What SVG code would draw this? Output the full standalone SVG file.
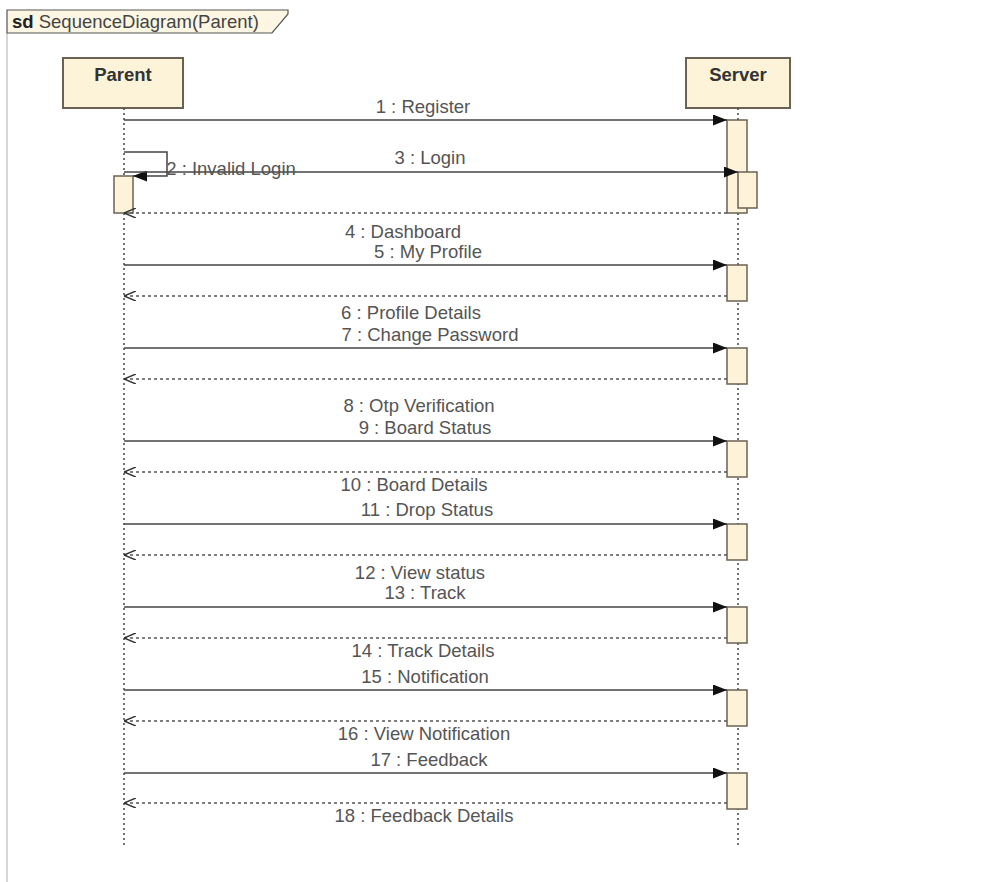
<svg xmlns="http://www.w3.org/2000/svg" width="988" height="882" viewBox="0 0 988 882">
  <defs>
    <marker id="filled" viewBox="0 0 14 11" refX="14" refY="5.5" markerWidth="14" markerHeight="11" markerUnits="userSpaceOnUse" orient="auto">
      <path d="M0,0 L14,5.5 L0,11 Z" fill="#111"/>
    </marker>
    <marker id="open" viewBox="0 0 12 10" refX="12" refY="5" markerWidth="12" markerHeight="10" markerUnits="userSpaceOnUse" orient="auto">
      <path d="M0,0 L12,5 L0,10" fill="none" stroke="#333" stroke-width="1.5"/>
    </marker>
    <style>
      .frame { fill: none; stroke: #c8c8c8; stroke-width: 1.5; }
      .tab { fill: #fdf6e3; stroke: #555; stroke-width: 1.2; }
      .head { fill: #fdf3d9; stroke: #6b6253; stroke-width: 2; }
      .act { fill: #fdf3d9; stroke: #6b6253; stroke-width: 1.5; }
      .life { stroke: #444; stroke-width: 1.5; stroke-dasharray: 2 3; fill: none; }
      .msg { stroke: #444; stroke-width: 1.5; fill: none; marker-end: url(#filled); }
      .ret { stroke: #555; stroke-width: 1.5; stroke-dasharray: 3 3; fill: none; marker-end: url(#open); }
      .lbl { font-family: "Liberation Sans", Arial, sans-serif; font-size: 18.5px; fill: #555; text-anchor: middle; }
      .name { font-family: "Liberation Sans", Arial, sans-serif; font-size: 18.5px; font-weight: bold; fill: #333; text-anchor: middle; }
      .title { font-family: "Liberation Sans", Arial, sans-serif; font-size: 18.5px; fill: #444; }
    </style>
  </defs>
  <rect width="988" height="882" fill="#fff"/>

  <!-- interaction frame and its name tab -->
  <g id="frame">
    <line class="frame" x1="7" y1="33" x2="7" y2="882"/>
    <path class="tab" d="M7,10 H288 V14 L272,33 H7 Z"/>
    <text class="title" x="12" y="28"><tspan font-weight="bold" fill="#222">sd</tspan> SequenceDiagram(Parent)</text>
  </g>

  <!-- lifelines -->
  <g id="parent">
    <rect class="head" x="63" y="58" width="120" height="50"/>
    <text class="name" x="123" y="81">Parent</text>
    <line class="life" x1="124" y1="108" x2="124" y2="845"/>
    <rect class="act" x="114" y="176" width="19" height="37"/>
  </g>
  <g id="server">
    <rect class="head" x="686" y="58" width="104" height="50"/>
    <text class="name" x="738" y="81">Server</text>
    <line class="life" x1="738" y1="108" x2="738" y2="845"/>
    <rect class="act" x="727" y="120" width="20" height="93"/>
    <rect class="act" x="738" y="172" width="19" height="36"/>
    <rect class="act" x="727" y="265" width="20" height="36"/>
    <rect class="act" x="727" y="348" width="20" height="36"/>
    <rect class="act" x="727" y="441" width="20" height="36"/>
    <rect class="act" x="727" y="524" width="20" height="36"/>
    <rect class="act" x="727" y="607" width="20" height="36"/>
    <rect class="act" x="727" y="690" width="20" height="36"/>
    <rect class="act" x="727" y="773" width="20" height="36"/>
  </g>

  <!-- messages -->
  <g id="connectors">
    <line class="msg" x1="124" y1="120" x2="727" y2="120"/>
    <path class="msg" d="M124,152 H167 V176 H133"/>
    <line class="msg" x1="124" y1="172" x2="738" y2="172"/>
    <line class="ret" x1="727" y1="213" x2="124" y2="213"/>
    <line class="msg" x1="124" y1="265" x2="727" y2="265"/>
    <line class="ret" x1="727" y1="296" x2="124" y2="296"/>
    <line class="msg" x1="124" y1="348" x2="727" y2="348"/>
    <line class="ret" x1="727" y1="379" x2="124" y2="379"/>
    <line class="msg" x1="124" y1="441" x2="727" y2="441"/>
    <line class="ret" x1="727" y1="472" x2="124" y2="472"/>
    <line class="msg" x1="124" y1="524" x2="727" y2="524"/>
    <line class="ret" x1="727" y1="555" x2="124" y2="555"/>
    <line class="msg" x1="124" y1="607" x2="727" y2="607"/>
    <line class="ret" x1="727" y1="638" x2="124" y2="638"/>
    <line class="msg" x1="124" y1="690" x2="727" y2="690"/>
    <line class="ret" x1="727" y1="721" x2="124" y2="721"/>
    <line class="msg" x1="124" y1="773" x2="727" y2="773"/>
    <line class="ret" x1="727" y1="803" x2="124" y2="803"/>
  </g>

  <!-- message labels -->
  <g id="labels">
    <text class="lbl" x="423" y="113">1 : Register</text>
    <text class="lbl" x="231" y="175">2 : Invalid Login</text>
    <text class="lbl" x="430" y="164">3 : Login</text>
    <text class="lbl" x="403" y="238">4 : Dashboard</text>
    <text class="lbl" x="428" y="258">5 : My Profile</text>
    <text class="lbl" x="411" y="319">6 : Profile Details</text>
    <text class="lbl" x="430" y="341">7 : Change Password</text>
    <text class="lbl" x="419" y="412">8 : Otp Verification</text>
    <text class="lbl" x="425" y="434">9 : Board Status</text>
    <text class="lbl" x="414" y="491">10 : Board Details</text>
    <text class="lbl" x="427" y="516">11 : Drop Status</text>
    <text class="lbl" x="420" y="579">12 : View status</text>
    <text class="lbl" x="425" y="599">13 : Track</text>
    <text class="lbl" x="423" y="657">14 : Track Details</text>
    <text class="lbl" x="425" y="683">15 : Notification</text>
    <text class="lbl" x="424" y="740">16 : View Notification</text>
    <text class="lbl" x="429" y="766">17 : Feedback</text>
    <text class="lbl" x="424" y="822">18 : Feedback Details</text>
  </g>
</svg>
